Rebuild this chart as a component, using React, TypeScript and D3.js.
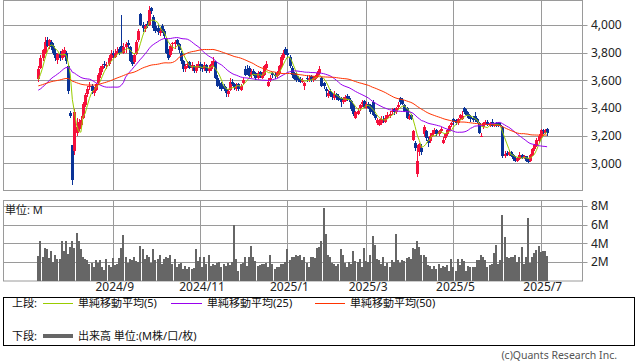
import { useEffect, useRef } from 'react';
import * as d3 from 'd3';

// closes before the first visible day (needed to warm up the moving averages)
const preCloses = [
  3560, 3580, 3600, 3620, 3610, 3590, 3600, 3630, 3640, 3620, 3600, 3610, 3590, 3570, 3580, 3600, 3590, 3570, 3560, 3580, 3590, 3600, 3580, 3560, 3550,
  3530, 3510, 3490, 3500, 3480, 3470, 3490, 3510, 3500, 3480, 3470, 3490, 3510, 3530, 3520, 3540, 3530, 3550, 3540, 3560,
  3570, 3580, 3590, 3600,
];

const opens = [
  3610, 3690, 3760, 3800, 3890, 3850, 3880, 3850, 3800, 3750,
  3790, 3760, 3800, 3800, 3700, 3365, 3130, 3090, 3220, 3250,
  3280, 3330, 3420, 3500, 3550, 3560, 3510, 3530, 3580, 3640,
  3680, 3720, 3700, 3720, 3760, 3800, 3770, 3800, 3830, 3850,
  3800, 3840, 3870, 3840, 3750, 3730, 3790, 3890, 4080, 4000,
  3970, 4010, 4000, 4120, 4060, 3990, 3980, 3940, 3990, 3960,
  3900, 3820, 3780, 3860, 3860, 3890, 3860, 3800, 3740, 3680,
  3710, 3730, 3690, 3700, 3670, 3700, 3720, 3700, 3680, 3710,
  3670, 3680, 3720, 3730, 3620, 3580, 3570, 3560, 3540, 3500,
  3530, 3590, 3570, 3540, 3570, 3530, 3580, 3680, 3660, 3690,
  3640, 3670, 3650, 3620, 3660, 3620, 3640, 3690, 3560, 3600,
  3650, 3640, 3630, 3650, 3700, 3760, 3830, 3800, 3770, 3690,
  3650, 3630, 3620, 3610, 3590, 3560, 3620, 3600, 3630, 3600,
  3610, 3630, 3650, 3620, 3580, 3540, 3490, 3520, 3500, 3470,
  3500, 3490, 3470, 3440, 3450, 3490, 3470, 3450, 3420, 3330,
  3360, 3400, 3430, 3450, 3400, 3430, 3420, 3440, 3350, 3290,
  3280, 3290, 3320, 3300, 3330, 3340, 3370, 3390, 3370, 3410,
  3470, 3460, 3420, 3400, 3320, 3350, 3170, 3150, 2920, 3080,
  3110, 3210, 3230, 3170, 3160, 3200, 3220, 3240, 3210, 3230,
  3150, 3180, 3210, 3240, 3280, 3320, 3310, 3290, 3330, 3320,
  3400, 3380, 3360, 3340, 3330, 3340, 3320, 3290, 3195, 3260,
  3290, 3300, 3270, 3300, 3270, 3290, 3295, 3280, 3260, 3050,
  3075, 3060, 3080, 3060, 3040, 3015, 3030, 3060, 3035, 3050,
  3030, 3020, 3060, 3100, 3130, 3160, 3190, 3240, 3220, 3250,
];

const highs = [
  3700, 3780, 3830, 3910, 3910, 3900, 3890, 3870, 3830, 3800,
  3810, 3830, 3840, 3810, 3720, 3375, 3135, 3390, 3330, 3320,
  3340, 3440, 3510, 3560, 3590, 3570, 3550, 3580, 3650, 3700,
  3720, 3740, 3730, 3780, 3820, 3810, 3830, 3840, 3840, 4070,
  3870, 3880, 3890, 3850, 3780, 3800, 3890, 3970, 4090, 4020,
  4010, 4030, 4140, 4130, 4070, 4020, 4000, 3980, 4010, 3970,
  3910, 3830, 3860, 3880, 3890, 3900, 3870, 3810, 3750, 3720,
  3740, 3740, 3730, 3710, 3720, 3740, 3730, 3720, 3730, 3720,
  3710, 3740, 3770, 3740, 3640, 3600, 3590, 3570, 3550, 3540,
  3620, 3610, 3580, 3580, 3580, 3570, 3620, 3700, 3710, 3700,
  3680, 3680, 3660, 3670, 3670, 3660, 3710, 3740, 3620, 3640,
  3660, 3660, 3670, 3710, 3780, 3820, 3840, 3830, 3780, 3700,
  3660, 3650, 3630, 3625, 3620, 3590, 3640, 3640, 3640, 3630,
  3640, 3670, 3700, 3625, 3590, 3550, 3530, 3540, 3510, 3520,
  3510, 3500, 3480, 3480, 3495, 3500, 3490, 3460, 3430, 3380,
  3400, 3430, 3460, 3460, 3440, 3440, 3430, 3460, 3360, 3330,
  3320, 3340, 3340, 3350, 3370, 3380, 3400, 3400, 3410, 3440,
  3480, 3470, 3430, 3410, 3360, 3360, 3240, 3160, 3130, 3150,
  3140, 3280, 3240, 3190, 3220, 3240, 3255, 3250, 3240, 3260,
  3190, 3220, 3250, 3280, 3300, 3330, 3320, 3330, 3360, 3380,
  3405, 3390, 3370, 3350, 3340, 3370, 3330, 3300, 3220, 3300,
  3310, 3310, 3300, 3320, 3290, 3300, 3300, 3290, 3270, 3090,
  3090, 3095, 3090, 3070, 3050, 3045, 3080, 3070, 3060, 3055,
  3035, 3070, 3110, 3140, 3180, 3210, 3250, 3250, 3250, 3255,
];

const lows = [
  3590, 3680, 3740, 3790, 3840, 3830, 3820, 3780, 3740, 3720,
  3740, 3750, 3770, 3720, 3500, 3330, 2845, 3060, 3200, 3230,
  3260, 3320, 3410, 3480, 3530, 3500, 3490, 3520, 3570, 3620,
  3660, 3690, 3680, 3700, 3740, 3760, 3760, 3790, 3780, 3800,
  3790, 3800, 3830, 3730, 3700, 3720, 3780, 3880, 3990, 3950,
  3950, 3980, 3990, 4080, 3960, 3940, 3930, 3920, 3940, 3900,
  3790, 3750, 3770, 3810, 3830, 3850, 3800, 3720, 3660, 3660,
  3690, 3680, 3670, 3650, 3650, 3690, 3670, 3660, 3670, 3650,
  3650, 3670, 3700, 3610, 3550, 3540, 3520, 3520, 3480, 3480,
  3520, 3560, 3530, 3520, 3520, 3520, 3570, 3630, 3640, 3620,
  3620, 3630, 3600, 3610, 3620, 3610, 3630, 3680, 3550, 3590,
  3620, 3610, 3620, 3640, 3690, 3750, 3780, 3760, 3690, 3620,
  3600, 3590, 3590, 3580, 3580, 3530, 3590, 3590, 3590, 3590,
  3600, 3620, 3640, 3550, 3540, 3480, 3470, 3480, 3460, 3460,
  3460, 3450, 3410, 3430, 3440, 3450, 3440, 3380, 3340, 3320,
  3350, 3380, 3410, 3400, 3390, 3390, 3360, 3340, 3310, 3280,
  3270, 3280, 3290, 3290, 3320, 3330, 3350, 3350, 3360, 3390,
  3420, 3420, 3370, 3320, 3310, 3310, 3160, 3090, 2900, 3050,
  3060, 3190, 3160, 3120, 3150, 3190, 3210, 3200, 3200, 3220,
  3140, 3170, 3200, 3230, 3260, 3280, 3275, 3280, 3310, 3310,
  3360, 3340, 3320, 3300, 3300, 3300, 3290, 3210, 3190, 3250,
  3280, 3270, 3260, 3260, 3260, 3260, 3260, 3260, 3040, 3040,
  3050, 3050, 3045, 3020, 3010, 3010, 3025, 3030, 3030, 3010,
  3000, 3010, 3050, 3090, 3120, 3150, 3180, 3210, 3210, 3200,
];

const closes = [
  3680, 3760, 3820, 3880, 3850, 3890, 3840, 3800, 3760, 3790,
  3760, 3810, 3820, 3740, 3520, 3340, 2880, 3370, 3260, 3300,
  3315, 3430, 3495, 3540, 3560, 3520, 3530, 3570, 3640, 3690,
  3700, 3710, 3710, 3760, 3790, 3780, 3800, 3810, 3795, 3810,
  3840, 3860, 3855, 3740, 3720, 3780, 3880, 3960, 4000, 3980,
  3990, 3995, 4110, 4100, 3980, 3960, 3950, 3960, 3960, 3920,
  3800, 3760, 3850, 3870, 3880, 3865, 3820, 3740, 3680, 3700,
  3720, 3690, 3710, 3670, 3700, 3720, 3690, 3680, 3710, 3670,
  3690, 3720, 3740, 3620, 3560, 3560, 3540, 3540, 3510, 3520,
  3590, 3570, 3550, 3560, 3540, 3560, 3600, 3640, 3650, 3630,
  3660, 3640, 3620, 3650, 3630, 3640, 3700, 3720, 3590, 3620,
  3640, 3630, 3650, 3700, 3770, 3800, 3790, 3780, 3700, 3640,
  3610, 3600, 3600, 3590, 3600, 3580, 3610, 3620, 3600, 3620,
  3630, 3650, 3680, 3560, 3560, 3520, 3510, 3500, 3480, 3500,
  3480, 3460, 3440, 3460, 3480, 3470, 3460, 3390, 3360, 3370,
  3380, 3420, 3440, 3410, 3430, 3400, 3370, 3350, 3330, 3310,
  3300, 3320, 3310, 3330, 3350, 3360, 3380, 3370, 3400, 3420,
  3440, 3430, 3380, 3330, 3340, 3320, 3230, 3110, 3020, 3140,
  3080, 3260, 3180, 3150, 3200, 3220, 3240, 3210, 3230, 3250,
  3170, 3210, 3240, 3270, 3290, 3300, 3290, 3320, 3350, 3340,
  3370, 3350, 3330, 3320, 3310, 3310, 3300, 3220, 3200, 3290,
  3300, 3280, 3290, 3270, 3280, 3270, 3280, 3270, 3050, 3070,
  3060, 3080, 3055, 3030, 3020, 3035, 3060, 3040, 3050, 3020,
  3010, 3060, 3100, 3130, 3170, 3200, 3240, 3230, 3240, 3220,
];

// volume, millions of shares
const volumes = [
  2.7, 4.3, 2.6, 3.5, 3.4, 2.4, 3.2, 2.0, 2.8, 2.3,
  2.3, 4.2, 3.2, 4.2, 2.9, 3.6, 4.2, 3.5, 5.1, 4.2,
  3.4, 2.5, 2.3, 2.2, 1.8, 1.9, 1.5, 2.2, 1.9, 2.2,
  1.5, 1.2, 2.3, 1.7, 1.5, 2.4, 1.7, 1.8, 2.4, 3.5,
  4.9, 2.5, 1.9, 2.3, 2.2, 2.5, 2.1, 2.0, 3.7, 3.4,
  2.3, 2.8, 2.6, 1.9, 3.4, 2.2, 2.3, 2.8, 1.8, 2.3,
  2.5, 2.4, 2.8, 1.8, 2.3, 1.5, 1.8, 1.9, 1.3, 1.6,
  1.3, 1.5, 1.3, 1.4, 3.4, 2.1, 2.5, 1.5, 2.6, 1.8,
  2.8, 1.6, 1.8, 1.7, 1.9, 2.0, 1.5, 1.8, 1.6, 1.9,
  1.7, 2.0, 5.9, 2.3, 1.1, 1.8, 1.9, 2.5, 1.6, 2.6,
  3.7, 2.6, 2.1, 1.6, 1.7, 1.8, 1.8, 1.9, 1.5, 2.8,
  1.8, 1.3, 1.5, 1.5, 1.8, 1.8, 2.0, 3.4, 2.2, 2.6,
  2.5, 2.8, 2.7, 2.8, 2.2, 2.5, 1.9, 1.5, 2.5, 2.6,
  2.4, 3.5, 3.6, 4.2, 7.8, 5.0, 2.8, 2.5, 1.9, 1.8,
  1.6, 1.8, 3.4, 2.8, 1.9, 1.5, 2.0, 1.8, 3.2, 2.1,
  2.0, 2.3, 1.5, 3.5, 2.1, 2.0, 2.8, 4.8, 3.8, 2.3,
  2.2, 1.8, 2.5, 1.6, 1.9, 1.5, 2.2, 2.0, 5.0, 2.2,
  1.9, 2.2, 2.1, 2.4, 2.6, 2.3, 3.5, 3.4, 4.3, 3.6,
  2.8, 2.8, 2.6, 1.7, 1.6, 1.3, 1.6, 1.3, 1.8, 1.4,
  1.6, 1.5, 1.7, 1.1, 2.3, 1.5, 1.1, 2.3, 1.7, 2.3,
  2.1, 1.1, 1.6, 1.5, 1.5, 1.5, 2.2, 2.2, 2.8, 2.5,
  2.2, 1.5, 1.7, 1.8, 3.0, 3.8, 1.8, 2.2, 7.0, 4.7,
  2.5, 2.4, 2.5, 2.6, 2.8, 2.0, 2.6, 3.6, 1.8, 2.5,
  6.7, 1.9, 2.5, 3.0, 3.3, 3.7, 3.1, 3.2, 3.2, 2.7,
];

// day index of the first trading day of each labelled month
const monthTicks = [35, 76, 117, 154, 195, 236];
const monthLabels = ['2024/9', '2024/11', '2025/1', '2025/3', '2025/5', '2025/7'];
const priceTicks = [3000, 3200, 3400, 3600, 3800, 4000];
const volumeTicks = [2, 4, 6, 8];

const maPeriods = [5, 25, 50];
const maColors = ['#99cc00', '#9900ee', '#ff3300'];
const maLabels = ['単純移動平均(5)', '単純移動平均(25)', '単純移動平均(50)'];

const UP = '#f5103c';
const DOWN = '#0a3397';
const GRID = '#9a9a9a';
const FONT = '"Noto Sans", "Noto Sans CJK JP", sans-serif';

export default function App() {
  const svgRef = useRef<SVGSVGElement>(null);

  useEffect(() => {
    if (!svgRef.current) return;
    const svg = d3.select(svgRef.current);
    svg.selectAll('*').remove();

    const left = 3.5;
    const right = 582.5;
    const pTop = 0.5;
    const pBottom = 190.5;
    const vTop = 200.5;
    const vBottom = 281;

    const x = d3.scaleLinear().domain([0, 236]).range([38.3, 540.7]);
    const y = d3.scaleLinear().domain([3000, 4000]).range([163.3, 25]);
    const yv = d3.scaleLinear().domain([0, 8]).range([vBottom, 205.7]);

    // moving averages from the closes
    const all = [...preCloses, ...closes];
    const off = preCloses.length;
    const mas = maPeriods.map(n =>
      closes.map((_, i) => d3.mean(all.slice(i + off - n + 1, i + off + 1)) as number)
    );

    const g = svg.append('g');

    // grid - price panel
    g.append('g').selectAll('line')
      .data(priceTicks)
      .join('line')
      .attr('x1', left).attr('x2', right + 5)
      .attr('y1', d => Math.round(y(d)) + 0.5)
      .attr('y2', d => Math.round(y(d)) + 0.5)
      .attr('stroke', GRID);

    g.append('g').selectAll('line')
      .data(monthTicks)
      .join('line')
      .attr('x1', d => Math.round(x(d)) + 0.5)
      .attr('x2', d => Math.round(x(d)) + 0.5)
      .attr('y1', pTop).attr('y2', pBottom)
      .attr('stroke', GRID);

    // grid - volume panel
    g.append('g').selectAll('line')
      .data(volumeTicks)
      .join('line')
      .attr('x1', left).attr('x2', right + 5)
      .attr('y1', d => Math.round(yv(d)) + 0.5)
      .attr('y2', d => Math.round(yv(d)) + 0.5)
      .attr('stroke', GRID);

    g.append('g').selectAll('line')
      .data(monthTicks)
      .join('line')
      .attr('x1', d => Math.round(x(d)) + 0.5)
      .attr('x2', d => Math.round(x(d)) + 0.5)
      .attr('y1', vTop).attr('y2', vBottom)
      .attr('stroke', GRID);

    // panel frames
    [[pTop, pBottom], [vTop, vBottom]].forEach(([t, b]) => {
      g.append('rect')
        .attr('x', left).attr('y', t)
        .attr('width', right - left).attr('height', b - t)
        .attr('fill', 'none')
        .attr('stroke', GRID);
    });

    // volume bars
    g.append('g')
      .attr('shape-rendering', 'crispEdges')
      .selectAll('rect')
      .data(volumes)
      .join('rect')
      .attr('x', (_, i) => Math.round(x(i)) - 1)
      .attr('width', 2)
      .attr('y', d => yv(d))
      .attr('height', d => vBottom - yv(d))
      .attr('fill', '#666666');

    // candles
    const cg = g.append('g').attr('shape-rendering', 'crispEdges');
    closes.forEach((c, i) => {
      const o = opens[i];
      const col = c >= o ? UP : DOWN;
      const cx = Math.round(x(i));
      cg.append('rect')
        .attr('x', cx)
        .attr('width', 1)
        .attr('y', y(highs[i]))
        .attr('height', Math.max(1, y(lows[i]) - y(highs[i])))
        .attr('fill', col);
      const top = y(Math.max(o, c));
      const h = Math.max(1, Math.abs(y(o) - y(c)));
      cg.append('rect')
        .attr('x', cx - 1)
        .attr('width', 3)
        .attr('y', top)
        .attr('height', h)
        .attr('fill', col);
    });

    // moving average lines
    mas.forEach((vals, k) => {
      const line = d3.line<number>()
        .x((_, i) => x(i))
        .y(d => y(d));
      g.append('path')
        .datum(vals)
        .attr('d', line)
        .attr('fill', 'none')
        .attr('stroke', maColors[k])
        .attr('stroke-width', 1);
    });

    // right axis labels
    g.append('g').selectAll('text')
      .data(priceTicks)
      .join('text')
      .attr('x', 591)
      .attr('y', d => y(d))
      .attr('dy', '0.36em')
      .attr('font-size', 12)
      .attr('font-family', FONT)
      .attr('fill', '#222')
      .text(d => d3.format(',')(d));

    g.append('g').selectAll('text')
      .data(volumeTicks)
      .join('text')
      .attr('x', 591)
      .attr('y', d => yv(d))
      .attr('dy', '0.36em')
      .attr('font-size', 12)
      .attr('font-family', FONT)
      .attr('fill', '#222')
      .text(d => `${d}M`);

    g.append('text')
      .attr('x', 5).attr('y', 214)
      .attr('font-size', 11)
      .attr('font-family', FONT)
      .attr('fill', '#222')
      .text('単位: M');

    // month labels
    g.append('g').selectAll('text')
      .data(monthTicks)
      .join('text')
      .attr('x', d => x(d) + 2)
      .attr('y', 291)
      .attr('text-anchor', 'middle')
      .attr('font-size', 12)
      .attr('font-family', FONT)
      .attr('fill', '#222')
      .text((_, i) => monthLabels[i]);

    // legend box
    const lg = g.append('g').attr('font-family', FONT).attr('font-size', 11).attr('fill', '#111');
    lg.append('rect')
      .attr('x', 3.5).attr('y', 297.5)
      .attr('width', 631).attr('height', 48)
      .attr('fill', 'none')
      .attr('stroke', '#000');

    lg.append('text').attr('x', 12).attr('y', 303).attr('dy', '0.36em').text('上段:');
    const legendX = [[43, 73, 78], [171, 202, 207], [315, 345, 350]];
    legendX.forEach(([x1, x2, tx], k) => {
      lg.append('line')
        .attr('x1', x1).attr('x2', x2)
        .attr('y1', 303.5).attr('y2', 303.5)
        .attr('stroke', maColors[k]);
      lg.append('text').attr('x', tx).attr('y', 303).attr('dy', '0.36em').text(maLabels[k]);
    });

    lg.append('text').attr('x', 12).attr('y', 336).attr('dy', '0.36em').text('下段:');
    lg.append('line')
      .attr('x1', 43).attr('x2', 73)
      .attr('y1', 336).attr('y2', 336)
      .attr('stroke', '#666')
      .attr('stroke-width', 4);
    lg.append('text').attr('x', 78).attr('y', 336).attr('dy', '0.36em').text('出来高 単位:(M株/口/枚)');

    g.append('text')
      .attr('x', 617).attr('y', 359)
      .attr('text-anchor', 'end')
      .attr('font-size', 10.5)
      .attr('font-family', FONT)
      .attr('fill', '#555')
      .text('(c)Quants Research Inc.');
  }, []);

  return (
    <div style={{ position: 'absolute', left: 0, top: 0 }}>
      <svg ref={svgRef} width={638} height={362} style={{ display: 'block', background: '#fff' }} />
    </div>
  );
}
